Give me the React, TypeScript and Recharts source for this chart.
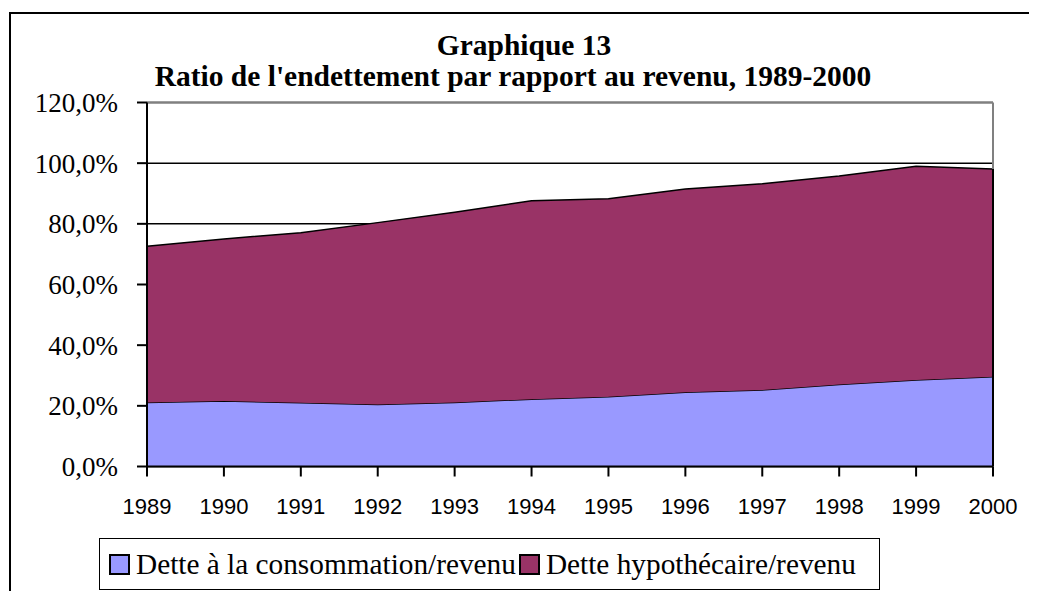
import React from 'react';
import { AreaChart, Area, XAxis, YAxis, CartesianGrid, ReferenceLine } from 'recharts';

const years = ['1989', '1990', '1991', '1992', '1993', '1994', '1995', '1996', '1997', '1998', '1999', '2000'];
const consommation = [21.1, 21.6, 21.0, 20.4, 21.1, 22.2, 23.0, 24.5, 25.2, 27.0, 28.5, 29.6];
const hypothecaire = [51.5, 53.4, 56.1, 60.0, 62.7, 65.4, 65.3, 67.0, 68.0, 68.8, 70.5, 68.5];
const yTicks = [0, 20, 40, 60, 80, 100, 120];
const seriesNames = ['Dette à la consommation/revenu', 'Dette hypothécaire/revenu'];
const seriesColors = ['#9999FF', '#993366'];
const titleLines = ['Graphique 13', "Ratio de l'endettement par rapport au revenu, 1989-2000"];

const data = years.map((y, i) => ({ year: y, cons: consommation[i], hyp: hypothecaire[i] }));
const lastTotal = consommation[consommation.length - 1] + hypothecaire[hypothecaire.length - 1];

const fmt = (v: number) => v.toFixed(1).replace('.', ',') + '%';

export default function App() {
  return (
    <div style={{ position: 'relative', width: 1029, height: 583, overflow: 'hidden', background: '#fff' }}>
      <style>{'html,body{overflow:hidden}'}</style>
      <div style={{ position: 'absolute', left: 1, top: 4, width: 1040, height: 600, borderLeft: '2px solid #000', borderTop: '2px solid #000' }} />
      {titleLines.map((t, i) => (
        <div key={i} style={{
          position: 'absolute', left: 0, width: 1029, top: 22 + i * 31, textAlign: 'center',
          fontFamily: '"Liberation Serif", serif', fontWeight: 'bold', fontSize: 29.5, lineHeight: '31px', color: '#000',
          paddingLeft: i === 0 ? 3 : 0, paddingRight: i === 1 ? 19 : 0, boxSizing: 'border-box', whiteSpace: 'nowrap'
        }}>{t}</div>
      ))}
      <div style={{ position: 'absolute', left: 0, top: 0 }}>
        <AreaChart width={1029} height={583} data={data} margin={{ top: 94.5, right: 44, bottom: 94.5, left: 0 }}>
          <CartesianGrid horizontal vertical={false} stroke="#000" strokeWidth={1.5} fill="none" />
          <XAxis dataKey="year" tickSize={10} tickMargin={22} height={30}
            axisLine={{ stroke: '#000', strokeWidth: 2 }} tickLine={{ stroke: '#000', strokeWidth: 2 }}
            tick={{ fill: '#000', fontSize: 22, fontFamily: '"Liberation Sans", Arial, sans-serif' }} interval={0} />
          <YAxis domain={[0, 120]} ticks={yTicks} width={139} tickSize={10} tickMargin={19} tickFormatter={fmt}
            axisLine={{ stroke: '#000', strokeWidth: 2 }} tickLine={{ stroke: '#000', strokeWidth: 2 }}
            tick={{ fill: '#000', fontSize: 27, fontFamily: '"Liberation Serif", serif' }} interval={0} />
          <Area type="linear" dataKey="cons" stackId="1" fill={seriesColors[0]} fillOpacity={1} stroke="#000" strokeWidth={1.5} isAnimationActive={false} />
          <Area type="linear" dataKey="hyp" stackId="1" fill={seriesColors[1]} fillOpacity={1} stroke="#000" strokeWidth={1.5} isAnimationActive={false} />
          <ReferenceLine y={120} stroke="#808080" strokeWidth={2} />
          <ReferenceLine x="2000" stroke="#808080" strokeWidth={2} />
          <ReferenceLine segment={[{ x: '2000', y: 0 }, { x: '2000', y: lastTotal }]} stroke="#000" strokeWidth={2} />
        </AreaChart>
      </div>
      <div style={{
        position: 'absolute', left: 91, top: 530, width: 781, height: 52, border: '1px solid #000', boxSizing: 'border-box',
        display: 'flex', alignItems: 'center', paddingLeft: 9, background: '#fff',
        fontFamily: '"Liberation Serif", serif', fontSize: 29.3, color: '#000', whiteSpace: 'nowrap'
      }}>
        {seriesNames.map((n, i) => (
          <div key={i} style={{ display: 'flex', alignItems: 'center', marginRight: 3 }}>
            <div style={{ width: 17, height: 17, background: seriesColors[i], border: '2px solid #000', marginRight: 6 }} />
            <span>{n}</span>
          </div>
        ))}
      </div>
    </div>
  );
}
